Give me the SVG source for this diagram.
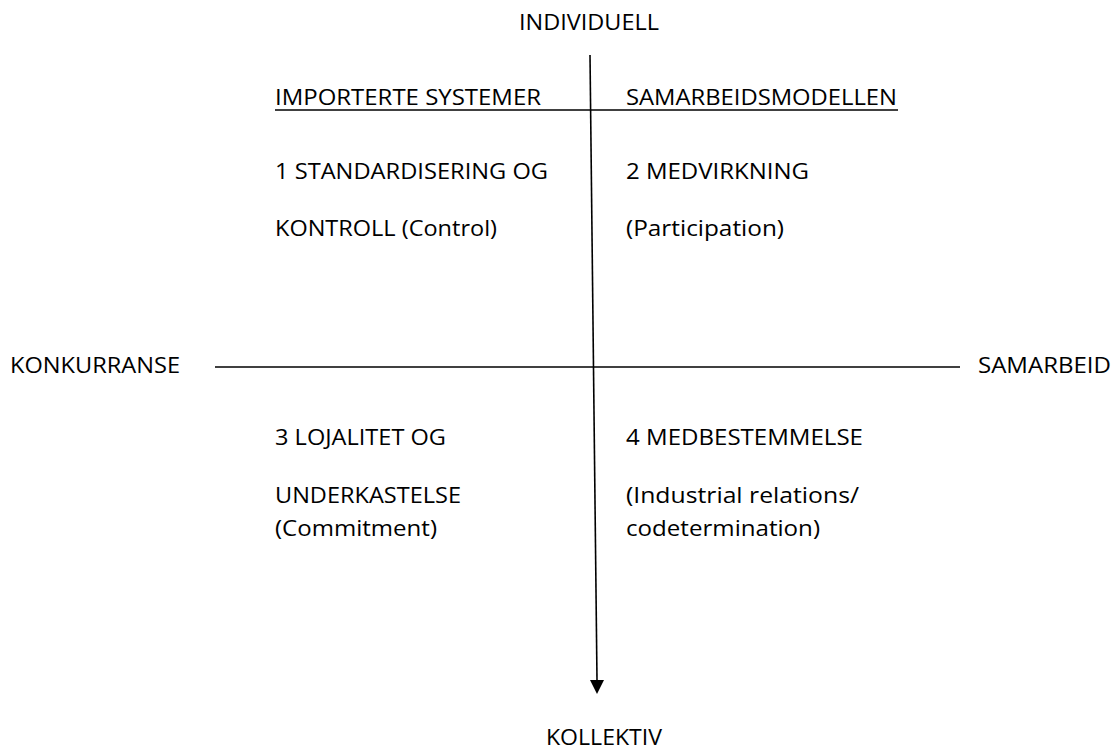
<svg xmlns="http://www.w3.org/2000/svg" width="1120" height="749" viewBox="0 0 1120 749">
<style>
text{font-family:"Open Sans","Liberation Sans",sans-serif;font-size:21px;fill:#000}
.ln{stroke:#000;stroke-width:1.6;fill:none}
.ah{fill:#000}
</style>
<rect width="1120" height="749" fill="#fff"/>
<g id="connectors">
<line class="ln" x1="590" y1="55" x2="597" y2="680"/>
<path class="ah" d="M590,680 L604,680 L597,694 z"/>
<line class="ln" x1="215" y1="367" x2="960" y2="367"/>
<line class="ln" x1="275" y1="110" x2="898" y2="110"/>
</g>
<g id="axis-individuell"><text x="519" y="30" textLength="140" lengthAdjust="spacingAndGlyphs">INDIVIDUELL</text></g>
<g id="axis-kollektiv"><text x="546" y="745" textLength="116" lengthAdjust="spacingAndGlyphs">KOLLEKTIV</text></g>
<g id="axis-konkurranse"><text x="10" y="373" textLength="170" lengthAdjust="spacingAndGlyphs">KONKURRANSE</text></g>
<g id="axis-samarbeid"><text x="978" y="373" textLength="133" lengthAdjust="spacingAndGlyphs">SAMARBEID</text></g>
<g id="head-importerte"><text x="275" y="105" textLength="266" lengthAdjust="spacingAndGlyphs">IMPORTERTE SYSTEMER</text></g>
<g id="head-samarbeidsmodellen"><text x="626" y="105" textLength="271" lengthAdjust="spacingAndGlyphs">SAMARBEIDSMODELLEN</text></g>
<g id="q1">
<text x="275" y="179" textLength="273" lengthAdjust="spacingAndGlyphs">1 STANDARDISERING OG</text>
<text x="275" y="236" textLength="222" lengthAdjust="spacingAndGlyphs">KONTROLL (Control)</text>
</g>
<g id="q2">
<text x="626" y="179" textLength="183" lengthAdjust="spacingAndGlyphs">2 MEDVIRKNING</text>
<text x="626" y="236" textLength="158" lengthAdjust="spacingAndGlyphs">(Participation)</text>
</g>
<g id="q3">
<text x="275" y="445" textLength="171" lengthAdjust="spacingAndGlyphs">3 LOJALITET OG</text>
<text x="275" y="503" textLength="186" lengthAdjust="spacingAndGlyphs">UNDERKASTELSE</text>
<text x="275" y="536" textLength="162" lengthAdjust="spacingAndGlyphs">(Commitment)</text>
</g>
<g id="q4">
<text x="626" y="445" textLength="237" lengthAdjust="spacingAndGlyphs">4 MEDBESTEMMELSE</text>
<text x="626" y="503" textLength="233" lengthAdjust="spacingAndGlyphs">(Industrial relations/</text>
<text x="626" y="536" textLength="194" lengthAdjust="spacingAndGlyphs">codetermination)</text>
</g>
</svg>
